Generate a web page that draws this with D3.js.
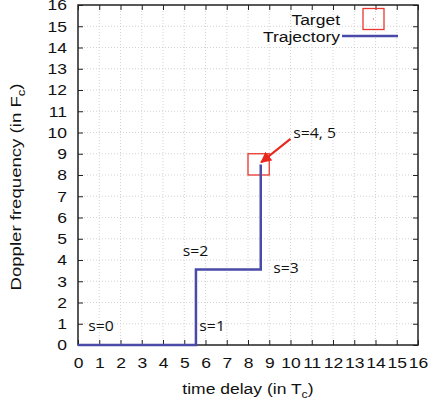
<!DOCTYPE html>
<html><head><meta charset="utf-8">
<script src="https://cdn.jsdelivr.net/npm/d3@7"></script>
<style>body{margin:0;background:#fff}svg text{font-family:"Liberation Sans",Arial,sans-serif}</style>
</head><body><svg id="c" width="429" height="404"></svg>
<script>
const xTicks = d3.range(0,17);
const yTicks = d3.range(0,17);
const trajX = [0, 5.55, 5.55, 8.6, 8.6];
const trajY = [0, 0, 3.55, 3.55, 8.5];
const target = {x: 8.5, y: 8.5, half: 0.5};
const stepLabels = ["s=0","s=1","s=2","s=3","s=4, 5"];
const labelX = [0.48, 5.71, 4.93, 9.19, 10.13];
const labelY = [0.68, 0.68, 4.21, 3.37, 9.76];
const arrowFrom = [10.0, 9.7];
const arrowTo = [8.62, 8.6];

const svg = d3.select("#c");
const L=78, R=418, T=5, B=345;
const SX = 1.13; // horizontal stretch of the reference glyphs
const x = d3.scaleLinear().domain([0,16]).range([L,R]);
const y = d3.scaleLinear().domain([0,16]).range([B,T]);

function stext(px, py, anchor, size, rot, sx, family){
  const g = svg.append("g").attr("transform",`translate(${px},${py})${rot?` rotate(${rot})`:""} scale(${sx},1)`);
  const t = g.append("text").attr("text-anchor",anchor).attr("font-size",size).attr("fill","#111");
  if (family) t.style("font-family",family);
  return t;
}

// grid
const g = svg.append("g");
g.selectAll(".gx").data(xTicks.slice(1,-1)).enter().append("line")
 .attr("x1",d=>x(d)).attr("x2",d=>x(d)).attr("y1",T).attr("y2",B)
 .attr("stroke","#c8c8c8").attr("stroke-width",0.8).attr("stroke-dasharray","1,2");
g.selectAll(".gy").data(yTicks.slice(1,-1)).enter().append("line")
 .attr("y1",d=>y(d)).attr("y2",d=>y(d)).attr("x1",L).attr("x2",R)
 .attr("stroke","#c8c8c8").attr("stroke-width",0.8).attr("stroke-dasharray","1,2");

// axes with inner ticks
const fs = 15.5;
const ax = svg.append("g").attr("transform",`translate(0,${B})`)
 .call(d3.axisBottom(x).tickValues(xTicks).tickSizeInner(-5).tickSizeOuter(0).tickPadding(12).tickFormat(d3.format("d")));
const ay = svg.append("g").attr("transform",`translate(${L},0)`)
 .call(d3.axisLeft(y).tickValues(yTicks).tickSizeInner(-5).tickSizeOuter(0).tickPadding(10).tickFormat(d3.format("d")));
svg.append("g").attr("transform",`translate(0,${T})`)
 .call(d3.axisTop(x).tickValues(xTicks).tickSizeInner(-5).tickSizeOuter(0).tickFormat(""));
svg.append("g").attr("transform",`translate(${R},0)`)
 .call(d3.axisRight(y).tickValues(yTicks).tickSizeInner(-5).tickSizeOuter(0).tickFormat(""));
svg.selectAll(".domain").remove();
svg.selectAll(".tick line").attr("stroke","#222").attr("stroke-width",1);
svg.selectAll(".tick text").attr("font-size",fs).attr("fill","#111").style("font-family","Liberation Sans, Arial, sans-serif");
ax.selectAll(".tick text").attr("dy","0.71em").attr("transform",`scale(${SX},1)`);
ay.selectAll(".tick text").attr("x",-11/SX).attr("transform",`scale(${SX},1)`);
svg.append("rect").attr("x",L).attr("y",T).attr("width",R-L).attr("height",B-T)
 .attr("fill","none").attr("stroke","#222").attr("stroke-width",1.5);

// axis titles
const xt = stext((L+R)/2, 394, "middle", fs, 0, SX);
xt.append("tspan").text("time delay (in T");
xt.append("tspan").attr("font-size",11).attr("dy",4).text("c");
xt.append("tspan").attr("dy",-4).text(")");
const yt = stext(21, 187, "middle", fs, -90, 1.2);
yt.append("tspan").text("Doppler frequency (in F");
yt.append("tspan").attr("font-size",11).attr("dy",4).text("c");
yt.append("tspan").attr("dy",-4).text(")");

// target box
svg.append("rect").attr("x",x(target.x-target.half)).attr("y",y(target.y+target.half))
 .attr("width",x(target.x+target.half)-x(target.x-target.half))
 .attr("height",y(target.y-target.half)-y(target.y+target.half))
 .attr("fill","none").attr("stroke","#e8382e").attr("stroke-width",1.3);

// trajectory
const pts = trajX.map((v,i)=>[v,trajY[i]]);
svg.append("path").datum(pts).attr("d",d3.line().x(d=>x(d[0])).y(d=>y(d[1])))
 .attr("fill","none").attr("stroke","#4a4aa8").attr("stroke-width",2.5);

// arrow
svg.append("defs").append("marker").attr("id","ah").attr("viewBox","0 0 10 10").attr("refX",9).attr("refY",5)
 .attr("markerWidth",5).attr("markerHeight",5).attr("orient","auto").attr("markerUnits","strokeWidth")
 .append("path").attr("d","M0,0L10,5L0,10z").attr("fill","#e8281e");
svg.append("line").attr("x1",x(arrowFrom[0])).attr("y1",y(arrowFrom[1])).attr("x2",x(arrowTo[0])).attr("y2",y(arrowTo[1]))
 .attr("stroke","#e8281e").attr("stroke-width",2.2).attr("marker-end","url(#ah)");

// step labels
stepLabels.forEach((d,i)=>{
  stext(x(labelX[i]), y(labelY[i]), "start", 14, 0, SX, "'Open Sans','Noto Sans',sans-serif").text(d);
});

// legend
stext(340, 25, "end", fs, 0, SX).text("Target");
svg.append("rect").attr("x",363).attr("y",8.5).attr("width",21).attr("height",21).attr("fill","none").attr("stroke","#e8382e").attr("stroke-width",1.3);
svg.append("rect").attr("x",373).attr("y",18.5).attr("width",1).attr("height",1).attr("fill","#e8382e");
stext(340, 41.5, "end", fs, 0, SX).text("Trajectory");
svg.append("line").attr("x1",342).attr("x2",398).attr("y1",36).attr("y2",36).attr("stroke","#4a4aa8").attr("stroke-width",2.5);
</script></body></html>
